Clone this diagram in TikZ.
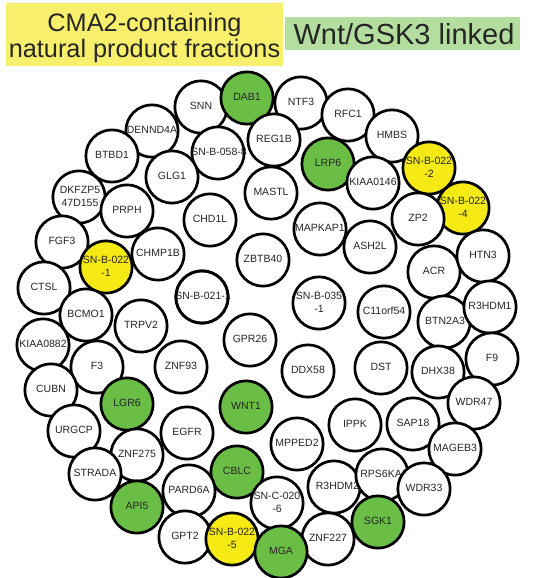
\documentclass[tikz,border=0pt]{standalone}
\usepackage{fontspec}
\setmainfont{Liberation Sans}
\definecolor{hdryellow}{HTML}{F8EF6C}
\definecolor{hdrgreen}{HTML}{B4DE9F}
\definecolor{wntgreen}{HTML}{6BBE45}
\definecolor{cmayellow}{HTML}{F6EA14}
\definecolor{labgray}{HTML}{262626}
\newcommand{\lblfont}{\fontsize{10.5}{13.2}\selectfont}
% label text that may overflow its circle without enlarging it
\newcommand{\lab}[1]{\makebox[0pt]{\begin{tabular}{@{}c@{}}#1\end{tabular}}}
% same, with the text moved right by half of the given amount
\newcommand{\labr}[2]{\makebox[0pt]{\hspace*{#1}\begin{tabular}{@{}c@{}}#2\end{tabular}}}
\tikzset{
  ball/.style={circle, draw=black, line width=2.7pt, minimum size=52.3pt,
    inner sep=0pt, fill=white, text=labgray, font=\lblfont},
  gball/.style={ball, fill=wntgreen},
  yball/.style={ball, fill=cmayellow},
  hdrbox/.style={rectangle, inner sep=0pt, draw=none},
}
\begin{document}
\begin{tikzpicture}[x=1pt,y=-1pt]
\clip (0,0) rectangle (533,578);
\useasboundingbox (0,0) rectangle (533,578);
\fill[white] (0,0) rectangle (533,578);

% legend boxes
\node[hdrbox, fill=hdryellow, minimum width=277pt, minimum height=63pt] (keycma) at (144.5,34.5) {};
\node[align=center, inner sep=0pt, text=labgray, font=\fontsize{25.3}{26}\selectfont] (keycmatxt) at (144.5,38.3) {CMA2-containing\\natural product fractions};
\node[hdrbox, fill=hdrgreen, minimum width=235pt, minimum height=33pt] (keywnt) at (402.5,33.5) {};
\node[anchor=base, inner sep=0pt, text=labgray, font=\fontsize{29}{30}\selectfont] (keywnttxt) at (404,45) {Wnt/GSK3 linked};

% gene and fraction circles
\node[ball]  (snn)      at (201,107) {\lab{SNN}};
\node[gball] (dab1)     at (247,98)  {\lab{DAB1}};
\node[ball]  (ntf3)     at (301,103) {\lab{NTF3}};
\node[ball]  (rfc1)     at (348,115) {\lab{RFC1}};
\node[ball]  (hmbs)     at (392,136) {\lab{HMBS}};
\node[ball]  (dennd4a)  at (152,131) {\lab{DENND4A}};
\node[ball]  (btbd1)    at (112,156) {\lab{BTBD1}};
\node[ball]  (snb058)   at (218,153) {\labr{2pt}{SN-B-058-8}};
\node[ball]  (reg1b)    at (274,140) {\lab{REG1B}};
\node[gball] (lrp6)     at (328,164) {\lab{LRP6}};
\node[ball]  (kiaa0146) at (373,183) {\lab{KIAA0146}};
\node[yball] (snb0222)  at (429,168) {\lab{SN-B-022\\-2}};
\node[yball] (snb0224)  at (463,208) {\lab{SN-B-022\\-4}};
\node[ball]  (glg1)     at (172,177) {\lab{GLG1}};
\node[ball]  (dkfzp)    at (79,197)  {\labr{2pt}{DKFZP5\\47D155}};
\node[ball]  (prph)     at (127,211) {\lab{PRPH}};
\node[ball]  (chd1l)    at (210,220) {\lab{CHD1L}};
\node[ball]  (mastl)    at (271,193) {\lab{MASTL}};
\node[ball]  (mapkap1)  at (320,229) {\lab{MAPKAP1}};
\node[ball]  (zp2)      at (418,219) {\lab{ZP2}};
\node[ball]  (fgf3)     at (62,242)  {\lab{FGF3}};
\node[yball] (snb0221)  at (106,267) {\lab{SN-B-022\\-1}};
\node[ball]  (chmp1b)   at (158,254) {\lab{CHMP1B}};
\node[ball]  (zbtb40)   at (263,260) {\lab{ZBTB40}};
\node[ball]  (ash2l)    at (370,247) {\lab{ASH2L}};
\node[ball]  (acr)      at (434,272) {\lab{ACR}};
\node[ball]  (htn3)     at (483,256) {\lab{HTN3}};
\node[ball]  (ctsl)     at (44,288)  {\lab{CTSL}};
\node[ball]  (bcmo1)    at (86,315)  {\lab{BCMO1}};
\node[ball]  (snb021)   at (202,297) {\labr{2pt}{SN-B-021-1}};
\draw[line width=2.7pt] (snb021.center) circle (26.15pt);
\node[ball]  (trpv2)    at (141,326) {\lab{TRPV2}};
\node[ball]  (snb035)   at (319,303) {\lab{SN-B-035\\-1}};
\node[ball]  (c11orf54) at (384,312) {\lab{C11orf54}};
\node[ball]  (btn2a3)   at (444,322) {\labr{2pt}{BTN2A3}};
\node[ball]  (r3hdm1)   at (490,307) {\lab{R3HDM1}};
\node[ball]  (kiaa0882) at (43,345)  {\lab{KIAA0882}};
\node[ball]  (gpr26)    at (250,340) {\lab{GPR26}};
\node[ball]  (f3)       at (97,367)  {\lab{F3}};
\node[ball]  (znf93)    at (181,367) {\lab{ZNF93}};
\node[ball]  (ddx58)    at (308,371) {\lab{DDX58}};
\node[ball]  (dst)      at (381,368) {\lab{DST}};
\node[ball]  (dhx38)    at (438,372) {\lab{DHX38}};
\node[ball]  (f9)       at (492,359) {\lab{F9}};
\node[ball]  (cubn)     at (51,390)  {\lab{CUBN}};
\node[gball] (lgr6)     at (127,404) {\lab{LGR6}};
\node[gball] (wnt1)     at (246,407) {\lab{WNT1}};
\node[ball]  (wdr47)    at (474,403) {\lab{WDR47}};
\node[ball]  (urgcp)    at (74,431)  {\lab{URGCP}};
\node[ball]  (egfr)     at (187,433) {\lab{EGFR}};
\node[ball]  (ippk)     at (355,425) {\lab{IPPK}};
\node[ball]  (sap18)    at (413,424) {\lab{SAP18}};
\node[ball]  (mpped2)   at (297,444) {\lab{MPPED2}};
\node[ball]  (mageb3)   at (455,449) {\lab{MAGEB3}};
\node[ball]  (znf275)   at (137,455) {\lab{ZNF275}};
\node[ball]  (strada)   at (95,474)  {\lab{STRADA}};
\node[gball] (cblc)     at (237,472) {\lab{CBLC}};
\node[ball]  (r3hdm2)   at (334,487) {\labr{7pt}{R3HDM2}};
\node[ball]  (rps6ka1)  at (382,475) {\labr{4pt}{RPS6KA1}};
\node[ball]  (wdr33)    at (424,489) {\lab{WDR33}};
\node[ball]  (pard6a)   at (189,491) {\lab{PARD6A}};
\node[ball]  (snc020)   at (277,503) {\lab{SN-C-020\\-6}};
\node[gball] (api5)     at (137,507) {\lab{API5}};
\node[gball] (sgk1)     at (378,522) {\lab{SGK1}};
\node[ball]  (gpt2)     at (185,537) {\lab{GPT2}};
\node[yball] (snb0225)  at (232,539) {\lab{SN-B-022\\-5}};
\node[ball]  (znf227)   at (328,539) {\lab{ZNF227}};
\node[gball] (mga)      at (281,552) {\lab{MGA}};
\end{tikzpicture}
\end{document}
